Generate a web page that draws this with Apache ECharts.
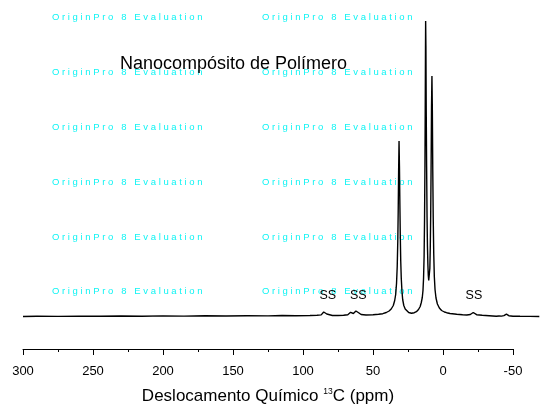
<!DOCTYPE html>
<html>
<head>
<meta charset="utf-8">
<script src="https://cdn.jsdelivr.net/npm/echarts@6/dist/echarts.min.js"></script>
<style>
html,body{margin:0;padding:0;background:#fff;}
#chart{width:550px;height:410px;}
</style>
</head>
<body>
<div id="chart"></div>
<script>
// Chemical shift (ppm) and intensity (arbitrary units)
var shift = [300,290,275,260,245,230,215,200,185,170,155,140,125,115,105,95,90,87,86,85.2,84.5,83.8,83,82,79,75,71,68,66.8,66,65.2,64,63,62.2,61.5,60.8,60,58.5,55,50,46,43,40.5,38.5,37,35.5,34.5,33.8,33.2,32.7,32.3,32.0,31.7,31.4,31.1,30.8,30.5,30.2,29.8,29.3,28.8,28.0,27.0,26.0,24.5,22.5,20.5,19,17.5,16.3,15.5,14.8,14.3,13.9,13.5,13.2,12.9,12.7,12.5,12.4,12.2,12.0,11.7,11.4,11.1,10.8,10.5,10.2,10.0,9.7,9.4,9.1,8.8,8.5,8.2,7.9,7.6,7.3,7.0,6.6,6.2,5.7,5.0,4.0,2.6,1.0,-1,-2.6,-5,-9.8,-14,-17,-19.5,-20.8,-21.6,-22.5,-24,-28,-33,-38,-40,-40.8,-41.8,-43.5,-45.3,-47,-50,-55,-62,-68.8];
var intensity = [0,0.3,0.1,0.4,0.2,0.5,0.3,0.6,0.4,0.7,0.5,0.8,0.6,1.0,0.8,1.0,1.2,1.6,2.5,4.5,5.8,4.5,2.5,1.4,1.0,1.0,1.2,1.8,3.2,4.2,3.6,3.0,3.8,5.5,6.5,5.5,3.5,2.0,1.5,1.8,2.2,2.8,4.0,5.5,7.5,11,16,22,33,50,75,105,145,175.5,150,112,80,56,38,25,17,11,7.5,5.5,4.0,3.3,3.8,4.8,7,10,14,19,26,38,60,95,150,205,270,295.5,270,210,150,100,70,52,41,36,34,37,48,68,100,150,210,240.5,205,145,100,62,40,27,18.5,12.5,8.5,6,4.5,3.8,3.0,2.2,1.7,1.5,2,3.2,4,3,1.8,1.3,0.8,0.3,0.5,1.2,0.4,0.9,2.3,0.8,0.3,0.2,0.1,0];
// Annotation labels
var annoShift = [82.3, 60.5, -22.1];
var annoLevel = [20.5, 20.5, 20.5];
var annoText = ['SS', 'SS', 'SS'];
var xTicks = [300, 250, 200, 150, 100, 50, 0, -50];
var dataRange = [-68.8, 300];
var axisRange = [-50, 300];

var chart = echarts.init(document.getElementById('chart'), null, {renderer:'canvas'});
var lineData = shift.map(function(s, i){ return [s, intensity[i]]; });
var annoData = annoShift.map(function(s, i){ return {value:[s, annoLevel[i]], label:{formatter: annoText[i]}}; });

var wm = [];
var wmRows = [17, 72, 127, 182, 237, 291];
var wmCols = [52, 262];
var wmText = 'O r i g i n P r o   8   E v a l u a t i o n';
wmRows.forEach(function(y){
  wmCols.forEach(function(x){
    wm.push({type:'text', x:x, y:y, silent:true, z:0,
      style:{text:wmText, fill:'#10f4f4', font:'9.5px "Liberation Sans", Arial, sans-serif', textVerticalAlign:'middle', textAlign:'left'}});
  });
});

var FONT = '"Liberation Sans", Arial, sans-serif';
// Axis grid: x from 23 to 513 px for 300..-50 (1.4 px/ppm); the spectrum grid keeps the same scale out to -68.8
var axisLeft = 23, axisRight = 37;
var pxPerUnit = (550 - axisLeft - axisRight) / (axisRange[1] - axisRange[0]);
var dataRight = 550 - axisLeft - pxPerUnit * (dataRange[1] - dataRange[0]);

chart.setOption({
  animation:false,
  backgroundColor:'#fff',
  title:{
    text:'Nanocompósito de Polímero',
    left:120, top:55, padding:0,
    textStyle:{fontFamily:FONT, fontSize:18, fontWeight:'normal', color:'#000'}
  },
  graphic: wm,
  grid:[
    {left:axisLeft, right:axisRight, top:16, bottom:56, containLabel:false},
    {left:axisLeft, right:dataRight, top:16, bottom:56, containLabel:false}
  ],
  xAxis:[{
    gridIndex:0,
    type:'value', inverse:true, min:axisRange[0], max:axisRange[1], interval:50,
    axisLine:{show:true, onZero:false, lineStyle:{color:'#000', width:1}},
    axisTick:{show:true, inside:false, length:6, lineStyle:{color:'#000', width:1}},
    minorTick:{show:true, splitNumber:2, length:3, lineStyle:{color:'#000', width:1}},
    splitLine:{show:false},
    axisLabel:{color:'#000', fontFamily:FONT, fontSize:13, margin:16,
      formatter:function(v){ return xTicks.indexOf(v) >= 0 ? String(v) : ''; }},
    name:'{a|Deslocamento Químico }{s|13}{a|C (ppm)}',
    nameLocation:'middle', nameGap:38,
    nameTextStyle:{
      rich:{
        a:{fontFamily:FONT, fontSize:17, color:'#000', lineHeight:18, verticalAlign:'bottom'},
        s:{fontFamily:FONT, fontSize:8.5, color:'#000', lineHeight:18, verticalAlign:'top', padding:[0,0,9,0]}
      }
    }
  },{
    gridIndex:1,
    type:'value', inverse:true, min:dataRange[0], max:dataRange[1], show:false
  }],
  yAxis:[
    {gridIndex:0, type:'value', min:-37.5, max:300.5, show:false},
    {gridIndex:1, type:'value', min:-37.5, max:300.5, show:false}
  ],
  series:[
    {type:'line', xAxisIndex:1, yAxisIndex:1, data:lineData, showSymbol:false, symbol:'none',
      lineStyle:{color:'#000', width:1.4}, z:3},
    {type:'scatter', xAxisIndex:1, yAxisIndex:1, data:annoData, symbolSize:0, z:4, itemStyle:{opacity:1, color:'#000'},
      label:{show:true, position:'inside', color:'#000', opacity:1, fontFamily:FONT, fontSize:12.5}}
  ]
});
</script>
</body>
</html>
